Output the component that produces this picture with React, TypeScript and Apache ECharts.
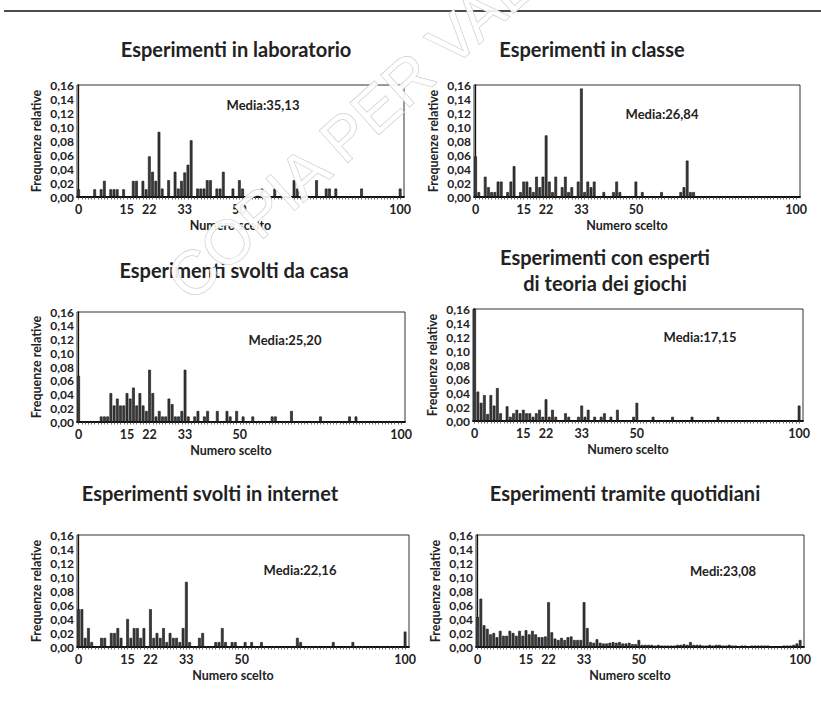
import React, { useEffect, useRef } from "react";
import * as echarts from "echarts";

// ---------- data ----------
const xTickLabels = [0, 15, 22, 33, 50, 100];

const labNumbers = [0, 5, 7, 8, 10, 11, 12, 14, 17, 18, 20, 21, 22, 23, 24, 25, 26, 28, 30, 31, 32, 33, 34, 35, 37, 38, 39, 40, 41, 43, 44, 45, 48, 50, 51, 57, 61, 67, 68, 74, 77, 78, 80, 88, 100];
const labFreq = [0.011, 0.011, 0.011, 0.023, 0.011, 0.011, 0.011, 0.011, 0.023, 0.023, 0.023, 0.011, 0.058, 0.036, 0.023, 0.093, 0.012, 0.024, 0.036, 0.012, 0.023, 0.035, 0.046, 0.081, 0.012, 0.012, 0.012, 0.024, 0.024, 0.012, 0.012, 0.036, 0.012, 0.024, 0.012, 0.012, 0.012, 0.024, 0.012, 0.024, 0.012, 0.012, 0.012, 0.012, 0.012];

const classNumbers = [0, 1, 3, 4, 5, 6, 7, 8, 10, 11, 12, 14, 15, 16, 17, 18, 19, 20, 21, 22, 23, 24, 25, 27, 28, 29, 30, 32, 33, 34, 35, 36, 37, 40, 43, 44, 45, 50, 52, 58, 64, 65, 66, 67, 68];
const classFreq = [0.058, 0.007, 0.029, 0.014, 0.007, 0.007, 0.022, 0.022, 0.007, 0.022, 0.044, 0.007, 0.022, 0.022, 0.014, 0.007, 0.029, 0.014, 0.029, 0.088, 0.022, 0.007, 0.029, 0.014, 0.029, 0.007, 0.014, 0.022, 0.155, 0.007, 0.022, 0.014, 0.022, 0.007, 0.007, 0.022, 0.007, 0.022, 0.007, 0.007, 0.007, 0.014, 0.052, 0.007, 0.007];

const homeNumbers = [0, 7, 8, 9, 10, 11, 12, 13, 14, 15, 16, 17, 18, 19, 20, 21, 22, 23, 24, 25, 26, 27, 28, 29, 30, 31, 32, 33, 34, 36, 37, 39, 40, 43, 46, 47, 49, 51, 54, 60, 61, 66, 75, 84, 86];
const homeFreq = [0.067, 0.008, 0.008, 0.008, 0.042, 0.024, 0.034, 0.024, 0.024, 0.042, 0.034, 0.05, 0.024, 0.042, 0.024, 0.016, 0.076, 0.042, 0.008, 0.016, 0.008, 0.008, 0.034, 0.026, 0.008, 0.008, 0.016, 0.076, 0.008, 0.008, 0.016, 0.008, 0.016, 0.016, 0.016, 0.008, 0.016, 0.008, 0.008, 0.008, 0.008, 0.016, 0.008, 0.008, 0.008];

const expertNumbers = [0, 1, 2, 3, 4, 5, 6, 7, 8, 10, 11, 12, 13, 14, 15, 16, 17, 18, 19, 20, 21, 22, 23, 24, 25, 28, 29, 32, 33, 34, 35, 37, 39, 40, 42, 44, 49, 50, 55, 61, 67, 75, 100];
const expertFreq = [0.16, 0.042, 0.026, 0.037, 0.01, 0.037, 0.022, 0.047, 0.011, 0.021, 0.006, 0.011, 0.016, 0.011, 0.016, 0.011, 0.011, 0.006, 0.011, 0.016, 0.006, 0.031, 0.006, 0.016, 0.006, 0.011, 0.006, 0.006, 0.022, 0.006, 0.016, 0.006, 0.006, 0.011, 0.006, 0.016, 0.006, 0.026, 0.006, 0.006, 0.006, 0.006, 0.022];

const internetNumbers = [0, 1, 2, 3, 4, 7, 8, 10, 11, 12, 13, 15, 16, 17, 18, 19, 20, 22, 23, 24, 25, 26, 27, 28, 29, 30, 31, 32, 33, 34, 37, 38, 42, 43, 44, 45, 47, 48, 51, 53, 56, 67, 68, 78, 84, 100];
const internetFreq = [0.054, 0.054, 0.013, 0.027, 0.007, 0.013, 0.013, 0.02, 0.02, 0.027, 0.013, 0.04, 0.013, 0.027, 0.027, 0.013, 0.027, 0.054, 0.013, 0.02, 0.013, 0.027, 0.007, 0.02, 0.013, 0.013, 0.007, 0.027, 0.093, 0.007, 0.013, 0.02, 0.007, 0.007, 0.027, 0.007, 0.007, 0.007, 0.007, 0.007, 0.007, 0.013, 0.007, 0.007, 0.007, 0.022];

// newspaper: one value for every number 0..100
const newspaperFreq = [
  0.043, 0.069, 0.031, 0.026, 0.018, 0.02, 0.014, 0.023, 0.016, 0.016,
  0.023, 0.02, 0.016, 0.023, 0.016, 0.024, 0.018, 0.023, 0.018, 0.014,
  0.014, 0.015, 0.064, 0.021, 0.012, 0.01, 0.013, 0.01, 0.014, 0.015,
  0.01, 0.01, 0.01, 0.064, 0.027, 0.007, 0.006, 0.011, 0.006, 0.005,
  0.005, 0.006, 0.007, 0.006, 0.007, 0.005, 0.005, 0.006, 0.004, 0.004,
  0.01, 0.003, 0.003, 0.003, 0.003, 0.002, 0.003, 0.002, 0.002, 0.002,
  0.002, 0.002, 0.003, 0.003, 0.004, 0.003, 0.007, 0.003, 0.003, 0.003,
  0.002, 0.002, 0.003, 0.002, 0.003, 0.003, 0.002, 0.002, 0.003, 0.002,
  0.002, 0.001, 0.002, 0.002, 0.001, 0.002, 0.002, 0.002, 0.002, 0.002,
  0.002, 0.001, 0.001, 0.001, 0.001, 0.002, 0.002, 0.002, 0.003, 0.005,
  0.01,
];
const newspaperNumbers = newspaperFreq.map((_, i) => i);

const titles = [
  "Esperimenti in laboratorio",
  "Esperimenti in classe",
  "Esperimenti svolti da casa",
  "Esperimenti con esperti\ndi teoria dei giochi",
  "Esperimenti svolti in internet",
  "Esperimenti tramite quotidiani",
];
const meanLabels = ["Media:35,13", "Media:26,84", "Media:25,20", "Media:17,15", "Media:22,16", "Medi:23,08"];
const numbersList = [labNumbers, classNumbers, homeNumbers, expertNumbers, internetNumbers, newspaperNumbers];
const freqList = [labFreq, classFreq, homeFreq, expertFreq, internetFreq, newspaperFreq];

// ---------- layout (pixels) ----------
const layout = [
  { left: 77, top: 85, width: 327, height: 112, tx: 236, ty: 49, mx: 263, my: 105 },
  { left: 474, top: 85, width: 326, height: 112, tx: 592, ty: 49, mx: 662, my: 114 },
  { left: 77, top: 312, width: 328, height: 110, tx: 234, ty: 270, mx: 285, my: 340 },
  { left: 473, top: 309, width: 330, height: 112, tx: 605, ty: 270, mx: 700, my: 337 },
  { left: 77, top: 535, width: 332, height: 112, tx: 210, ty: 493, mx: 300, my: 570 },
  { left: 476, top: 535, width: 328, height: 112, tx: 625, ty: 493, mx: 723, my: 571 },
];

const FONT = "Lato, 'Open Sans', sans-serif";
const allUnits = Array.from({ length: 101 }, (_, i) => i);

export default function App() {
  const ref = useRef<HTMLDivElement>(null);

  useEffect(() => {
    if (!ref.current) return;
    const chart = echarts.init(ref.current, undefined, { renderer: "svg" });

    const grid = layout.map((l) => ({
      left: l.left,
      top: l.top,
      width: l.width,
      height: l.height,
      show: true,
      borderColor: "#333",
      borderWidth: 1,
      containLabel: false,
    }));

    const xAxis = layout.map((_, i) => ({
      type: "value",
      gridIndex: i,
      min: -0.5,
      max: 101.2,
      axisLine: { show: true, onZero: false, lineStyle: { color: "#111", width: 1.8 } },
      axisTick: { show: true, customValues: allUnits, length: 2.5, lineStyle: { color: "#444", width: 0.8 } },
      axisLabel: {
        customValues: xTickLabels,
        fontFamily: FONT,
        fontWeight: "bold",
        fontSize: 12.5,
        color: "#222",
        margin: 6,
      },
      splitLine: { show: false },
      name: "Numero scelto",
      nameLocation: "middle",
      nameGap: 22,
      nameTextStyle: { fontFamily: FONT, fontWeight: "bold", fontSize: 12.5, color: "#222", padding: [0, 20, 0, 0] },
    }));

    const yAxis = layout.map((_, i) => ({
      type: "value",
      gridIndex: i,
      min: 0,
      max: 0.16,
      interval: 0.02,
      axisLine: { show: true, lineStyle: { color: "#111", width: 1.3 } },
      axisTick: { show: false },
      axisLabel: {
        formatter: (v: number) => v.toFixed(2).replace(".", ","),
        fontFamily: FONT,
        fontWeight: "bold",
        fontSize: 12,
        color: "#222",
        margin: 3,
      },
      splitLine: { show: false },
      name: "Frequenze relative",
      nameLocation: "middle",
      nameGap: 34,
      nameTextStyle: { fontFamily: FONT, fontWeight: "bold", fontSize: 12.5, color: "#222" },
    }));

    const series = numbersList.map((nums, i) => ({
      type: "bar",
      xAxisIndex: i,
      yAxisIndex: i,
      barWidth: 2.7,
      itemStyle: { color: "#3a3a3a", borderColor: "#111", borderWidth: 0.6 },
      data: nums.map((n, k) => [n, freqList[i][k]]),
    }));

    const graphic: any[] = [
      {
        type: "line",
        shape: { x1: 4, y1: 11, x2: 821, y2: 11 },
        style: { stroke: "#111", lineWidth: 1.5 },
      },
    ];
    layout.forEach((l, i) => {
      graphic.push({
        type: "text",
        x: l.tx,
        y: l.ty,
        style: {
          text: titles[i],
          fontFamily: FONT,
          fontWeight: "bold",
          fontSize: 20,
          lineHeight: 26,
          fill: "#222",
          textAlign: "center",
          textVerticalAlign: "middle",
        },
      });
      graphic.push({
        type: "text",
        x: l.mx,
        y: l.my,
        style: {
          text: meanLabels[i],
          fontFamily: FONT,
          fontWeight: "bold",
          fontSize: 13,
          fill: "#222",
          textAlign: "center",
          textVerticalAlign: "middle",
        },
      });
    });
    graphic.push({
      type: "text",
      x: 197,
      y: 311,
      rotation: (42 * Math.PI) / 180,
      z: 100,
      style: {
        text: "COPIA PER VALUTAZIONE",
        fontFamily: "'Liberation Sans', Arial, sans-serif",
        fontSize: 62,
        fill: "rgba(255,255,255,0.9)",
        stroke: "#cdcdcd",
        lineWidth: 1.3,
        textAlign: "left",
        textVerticalAlign: "bottom",
      },
    });

    chart.setOption({
      animation: false,
      backgroundColor: "#ffffff",
      grid,
      xAxis,
      yAxis,
      series,
      graphic,
    } as any);

    return () => chart.dispose();
  }, []);

  return (
    <div
      ref={ref}
      style={{ position: "absolute", left: 0, top: 0, width: 821, height: 707, background: "#fff" }}
    />
  );
}
